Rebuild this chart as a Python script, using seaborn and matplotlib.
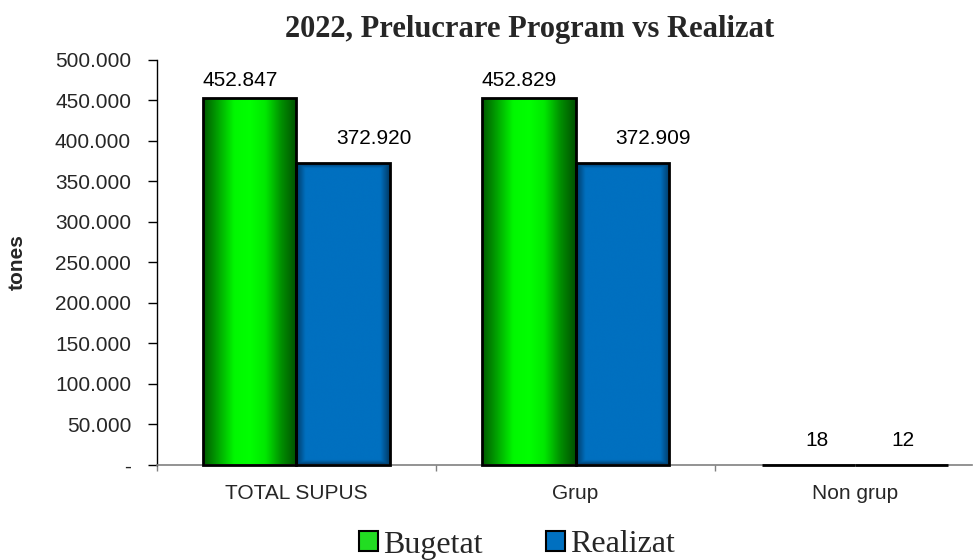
import numpy as np
import pandas as pd
import matplotlib
matplotlib.use("Agg")
import matplotlib.pyplot as plt
import seaborn as sns
from matplotlib.ticker import FuncFormatter, FixedLocator
from matplotlib.colors import LinearSegmentedColormap
from matplotlib.patches import Patch

# data (tones)
categories = ["TOTAL SUPUS", "Grup", "Non grup"]
series = ["Bugetat", "Realizat"]
bugetat = [452847, 452829, 18]
realizat = [372920, 372909, 12]

df = pd.DataFrame({
    "categorie": categories * 2,
    "serie": [series[0]] * 3 + [series[1]] * 3,
    "valoare": bugetat + realizat,
})

sns.set_style("white")
plt.rcParams["font.family"] = ["Liberation Sans", "DejaVu Sans"]

fig = plt.figure(figsize=(9.74, 5.6), dpi=100)
ax = fig.add_axes([0.161, 0.170, 0.837, 0.723])

colors = {"Bugetat": "#00C800", "Realizat": "#0070C0"}
sns.barplot(data=df, x="categorie", y="valoare", hue="serie", order=categories,
            hue_order=series, palette=colors, width=0.667, gap=0,
            edgecolor="black", linewidth=2, saturation=1, legend=False, ax=ax)

# gradient fills like the original chart
green_cmap = LinearSegmentedColormap.from_list(
    "g", ["#005A00", "#00A800", "#00F800", "#00FF00", "#00E800", "#009000", "#005000"])
blue_cmap = LinearSegmentedColormap.from_list(
    "b", ["#003A66", "#0070C0", "#0070C0", "#0070C0", "#0070C0", "#003A66"])
u = np.linspace(0, 1, 200)
g_grad = u[np.newaxis, :]
# blue: soft inner shadow on all edges
uu, vv = np.meshgrid(u, np.linspace(0, 1, 400))
edge = np.minimum(np.minimum(uu, 1 - uu) * 4, np.minimum(vv, 1 - vv) * 25)
b_grad = 0.5 - 0.5 * np.clip(1 - edge, 0, 1)

offsets = {"Bugetat": (-10, 18), "Realizat": (31, 24)}

for name, cont in zip(series, ax.containers):
    for bar in cont:
        x, w, h = bar.get_x(), bar.get_width(), bar.get_height()
        if name == "Bugetat":
            im = ax.imshow(g_grad, cmap=green_cmap, extent=(x, x + w, 0, h),
                           aspect="auto", zorder=2, interpolation="bicubic")
        else:
            im = ax.imshow(b_grad, cmap=blue_cmap, vmin=0, vmax=1, origin="lower",
                           extent=(x, x + w, 0, h), aspect="auto", zorder=2,
                           interpolation="bicubic")
        im.set_clip_path(bar)
        bar.set_facecolor("none")
        bar.set_zorder(3)
        bar.set_clip_on(False)
        # value labels
        if h > 1000:
            dx, dy = offsets[name]
        else:
            dx, dy = (9, 24) if name == "Bugetat" else (2, 24)
        ax.annotate(f"{h:,.0f}".replace(",", "."), xy=(x + w / 2, h),
                    xytext=(dx * 0.72, dy * 0.72), textcoords="offset points",
                    ha="center", va="center", fontsize=15, color="black")

def fmt(v, pos):
    if v == 0:
        return "-"
    return f"{v:,.0f}".replace(",", ".")

ax.set_ylim(0, 500000)
ax.set_yticks(np.arange(0, 500001, 50000))
ax.yaxis.set_major_formatter(FuncFormatter(fmt))
ax.set_xlim(-0.5, 2.42)
ax.xaxis.set_minor_locator(FixedLocator([-0.5, 0.5, 1.5, 2.5]))

ax.tick_params(axis="y", direction="out", length=6.5, width=1, color="black",
               labelsize=15, pad=12, left=True)
ax.tick_params(axis="x", which="major", length=0, labelsize=15, pad=14)
ax.tick_params(axis="x", which="minor", direction="out", length=4.5, width=1,
               color="#808080", bottom=True)

for s in ["top", "right"]:
    ax.spines[s].set_visible(False)
ax.spines["left"].set_color("black")
ax.spines["left"].set_linewidth(1)
ax.spines["bottom"].set_color("#808080")
ax.spines["bottom"].set_linewidth(1.2)

ax.set_xlabel("")
ax.set_ylabel("tones", fontsize=15, fontweight="bold")
ax.yaxis.set_label_coords(-0.16, 0.5)

fig.text(530 / 974, 1 - 29 / 560, "2022, Prelucrare Program vs Realizat",
         ha="center", va="center", fontsize=22, fontweight="bold",
         family=["Liberation Serif", "DejaVu Serif"])

handles = [Patch(facecolor="#22DD22", edgecolor="black", linewidth=1.5),
           Patch(facecolor="#0070C0", edgecolor="black", linewidth=1.5)]
fig.legend(handles, series, loc="center", bbox_to_anchor=(517 / 974, 1 - 545 / 560),
           ncol=2, frameon=False, handlelength=0.6, handleheight=0.6,
           handletextpad=0.15, columnspacing=2.0,
           prop={"family": ["Liberation Serif", "DejaVu Serif"], "size": 23})

fig.savefig("out.png", dpi=100)
